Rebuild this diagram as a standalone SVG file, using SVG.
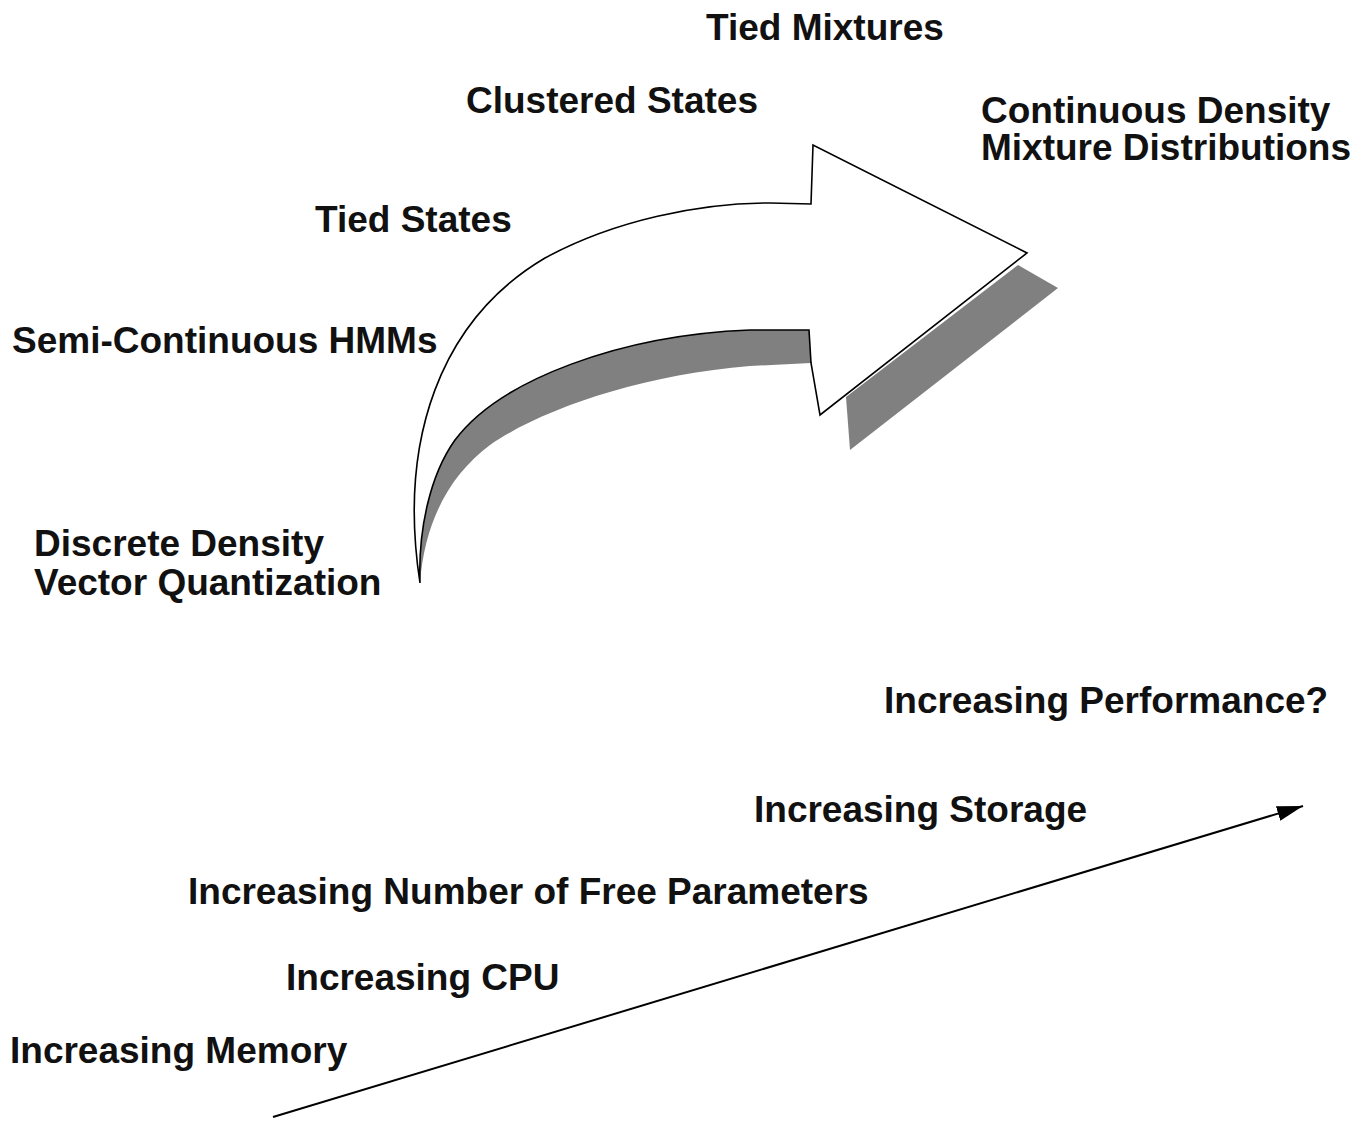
<svg xmlns="http://www.w3.org/2000/svg" width="1367" height="1121" viewBox="0 0 1367 1121">
<defs>
<style>
text{font-family:"Liberation Sans",Arial,Helvetica,sans-serif;font-weight:bold;font-size:37px;fill:#111}
.shadow{fill:#808080;stroke:none}
.arrow{fill:#fff;stroke:#000;stroke-width:1.6;stroke-linejoin:miter}
</style>
<marker id="ah2" viewBox="0 0 24 14" refX="24" refY="7" markerWidth="26" markerHeight="16" markerUnits="userSpaceOnUse" orient="auto">
<path d="M0,0 L24,7 L0,14 Z" fill="#000"/>
</marker>
</defs>
<rect width="1367" height="1121" fill="#fff"/>
<g id="big-arrow">
<path class="shadow" d="M809,330 L750,330 C620,335 500,380 455,440 C430,475 418,530 420,583 C425,520 450,475 490,445 C540,410 640,375 750,366 L811,363 Z"/>
<path class="shadow" d="M846,397 L1018,265 L1058,288 L850,450 Z"/>
<path class="arrow" d="M420,583 C398,440 440,320 545,258 C615,220 700,203 770,203 L811,204 L813,145 L1027,253 L820,415 L811,363 L809,330 L750,330 C620,335 500,380 455,440 C430,475 418,530 420,583 Z"/>
</g>
<g id="connectors">
<line x1="273" y1="1117" x2="1303" y2="806" stroke="#000" stroke-width="2" marker-end="url(#ah2)"/>
</g>
<g id="n-tied-mixtures"><text x="706" y="40">Tied Mixtures</text></g>
<g id="n-clustered-states"><text x="466" y="113">Clustered States</text></g>
<g id="n-continuous-density"><text x="981" y="123">Continuous Density</text><text x="981" y="160">Mixture Distributions</text></g>
<g id="n-tied-states"><text x="315" y="232">Tied States</text></g>
<g id="n-semi-continuous"><text x="12" y="353">Semi-Continuous HMMs</text></g>
<g id="n-discrete-density"><text x="34" y="556">Discrete Density</text><text x="34" y="595">Vector Quantization</text></g>
<g id="n-performance"><text x="884" y="713">Increasing Performance?</text></g>
<g id="n-storage"><text x="754" y="822">Increasing Storage</text></g>
<g id="n-free-params"><text x="188" y="904">Increasing Number of Free Parameters</text></g>
<g id="n-cpu"><text x="286" y="990">Increasing CPU</text></g>
<g id="n-memory"><text x="10" y="1063">Increasing Memory</text></g>
</svg>
